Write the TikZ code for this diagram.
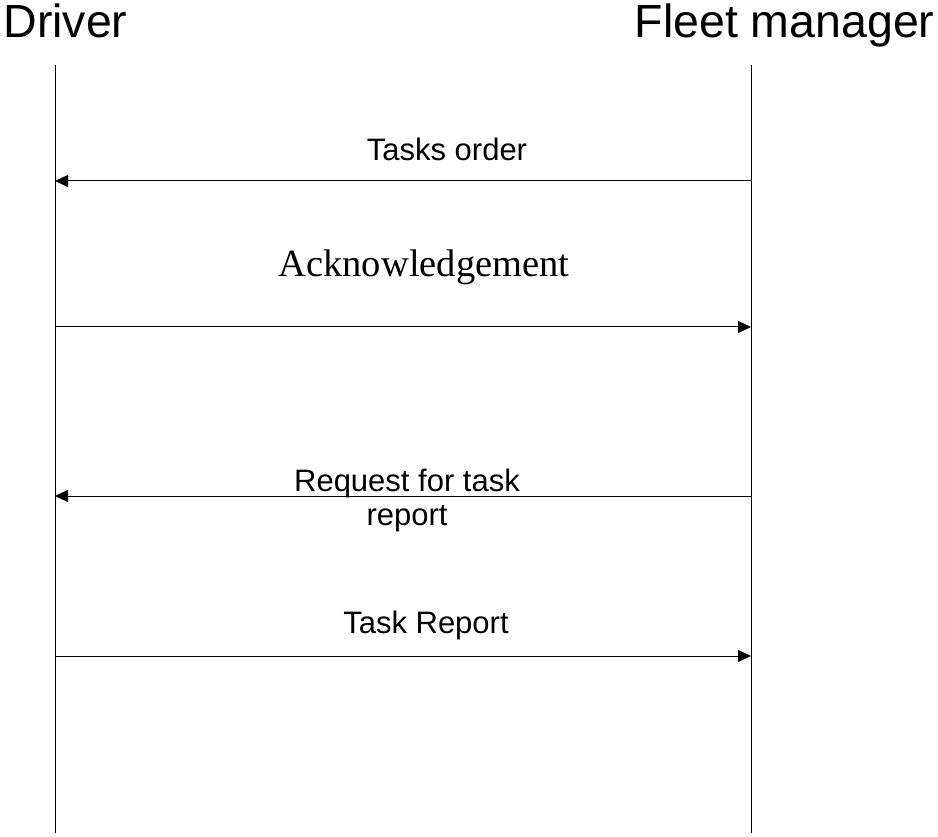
\documentclass[tikz,border=0pt]{standalone}
\usepackage{fontspec}
\setmainfont{Liberation Sans}
\newfontfamily\timesfont{Liberation Serif}
\usetikzlibrary{arrows.meta, calc, positioning}

\begin{document}
\begin{tikzpicture}[x=1pt, y=-1pt, >={Triangle[length=13pt, width=12pt]}, line width=1pt]
	\tikzstyle{actor} = [inner sep=0pt, font=\fontsize{46.5}{50}\selectfont]
	\tikzstyle{msg} = [inner sep=0pt, anchor=base, font=\fontsize{31}{34}\selectfont, align=center]

	\useasboundingbox (0,0) rectangle (938,837);

	% actors and lifelines
	\node[actor, anchor=base west] (driver) at (3,38) {Driver};
	\node[actor, anchor=base east] (fleet) at (935,38) {Fleet manager};

	\coordinate (dtop) at (55,65);
	\coordinate (dbot) at (55,833);
	\coordinate (ftop) at (751,65);
	\coordinate (fbot) at (751,833);
	\draw (dtop) -- (dbot);
	\draw (ftop) -- (fbot);

	% messages
	\path[->]
		(ftop |- 0,181) coordinate (f1) (dtop |- 0,181) coordinate (d1)
		(dtop |- 0,327) coordinate (d2) (ftop |- 0,327) coordinate (f2)
		(ftop |- 0,496) coordinate (f3) (dtop |- 0,496) coordinate (d3)
		(dtop |- 0,656) coordinate (d4) (ftop |- 0,656) coordinate (f4)

		(f1) edge (d1)
		(d2) edge (f2)
		(f3) edge (d3)
		(d4) edge (f4)
	;

	\node[msg] (order) at (447,161) {Tasks order};
	\node[msg, font=\timesfont\fontsize{38.5}{42}\selectfont] (ack) at (424,277) {Acknowledgement};
	\node[msg] (request) at (407,525) {Request for task\\report};
	\node[msg] (report) at (426,633) {Task Report};
\end{tikzpicture}
\end{document}
